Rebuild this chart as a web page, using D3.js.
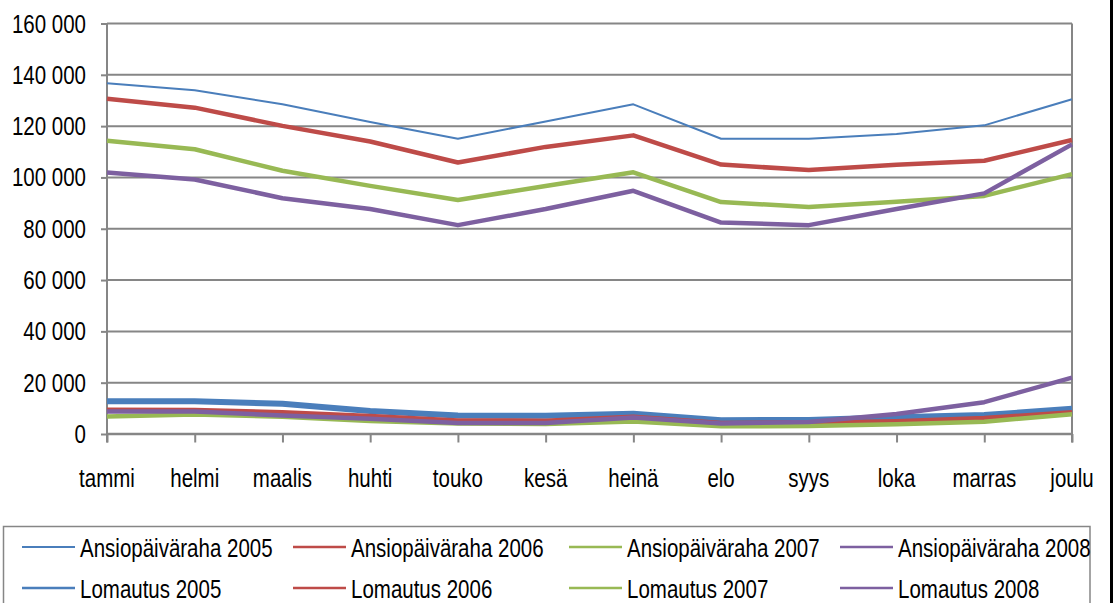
<!DOCTYPE html>
<html>
<head>
<meta charset="utf-8">
<script src="https://cdn.jsdelivr.net/npm/d3@7"></script>
<style>
  html, body { margin: 0; padding: 0; background: #fff; }
  svg { display: block; }
  text { font-family: "Liberation Sans", Arial, sans-serif; fill: #000; }
</style>
</head>
<body>
<svg id="chart" width="1115" height="603"></svg>
<script>
// ---- data ----
const months = ["tammi","helmi","maalis","huhti","touko","kesä","heinä","elo","syys","loka","marras","joulu"];
const yTickValues = [0, 20000, 40000, 60000, 80000, 100000, 120000, 140000, 160000];

const ansio2005 = [136700, 134000, 128500, 121600, 115100, 121800, 128500, 115100, 115100, 116900, 120300, 130500];
const ansio2006 = [130700, 127200, 120100, 114000, 105800, 111900, 116400, 105000, 102900, 104900, 106500, 114600];
const ansio2007 = [114300, 111000, 102600, 96700, 91200, 96700, 102000, 90400, 88500, 90500, 92800, 101300];
const ansio2008 = [101900, 99200, 91900, 87700, 81400, 87700, 94800, 82400, 81400, 87700, 93800, 112900];

const lomautus2005 = [12800, 12800, 11800, 9000, 7200, 7100, 7900, 5400, 5500, 6500, 7400, 9800];
const lomautus2006 = [9500, 9400, 8500, 7000, 5300, 5200, 6700, 4300, 4500, 5000, 6200, 8500];
const lomautus2007 = [6800, 7600, 6700, 5100, 4100, 3900, 4900, 3000, 3100, 3800, 4800, 7700];
const lomautus2008 = [8800, 8800, 7200, 5900, 4300, 4300, 6400, 4100, 4700, 7800, 12400, 22000];

const seriesNames = ["Ansiopäiväraha 2005","Ansiopäiväraha 2006","Ansiopäiväraha 2007","Ansiopäiväraha 2008",
                     "Lomautus 2005","Lomautus 2006","Lomautus 2007","Lomautus 2008"];
const seriesValues = [ansio2005, ansio2006, ansio2007, ansio2008, lomautus2005, lomautus2006, lomautus2007, lomautus2008];

// ---- styles ----
const colors = ["#4A7EBB","#BE4B48","#98B954","#7D60A0","#4A7EBB","#BE4B48","#98B954","#7D60A0"];
const widths = [2, 4.5, 4.5, 4.5, 6, 4.5, 4.5, 4.5];
const legendWidths = [2, 2.5, 2.5, 2.5, 2.5, 2.5, 2.5, 2.5];
const gridColor = "#868686";
const SX = 0.82; // horizontal text compression (narrow face)
const FS = 25;

const svg = d3.select("#chart");
const pLeft = 107, pRight = 1072, pTop = 23.5, pBottom = 434;

const x = d3.scalePoint().domain(months).range([pLeft, pRight]);
const y = d3.scaleLinear().domain([0, 160000]).range([pBottom, pTop]);

const fmt = d3.formatLocale({decimal: ",", thousands: "\u00a0", grouping: [3], currency: ["", ""]}).format(",d");

// gridlines
svg.append("g").selectAll("line").data(yTickValues).join("line")
  .attr("x1", pLeft).attr("x2", pRight)
  .attr("y1", d => y(d)).attr("y2", d => y(d))
  .attr("stroke", gridColor).attr("stroke-width", d => d === 0 ? 2.5 : 2);

// right border of plot
svg.append("line").attr("x1", pRight).attr("x2", pRight).attr("y1", pTop).attr("y2", pBottom + 8.5)
  .attr("stroke", gridColor).attr("stroke-width", 2);

// y axis
const yAxis = svg.append("g").attr("transform", `translate(${pLeft},0)`)
  .call(d3.axisLeft(y).tickValues(yTickValues).tickSize(6).tickSizeOuter(0).tickFormat(() => ""));
yAxis.select(".domain").attr("stroke", gridColor).attr("stroke-width", 2).attr("d", `M0,${pTop}V${pBottom + 8.5}`);
yAxis.selectAll(".tick line").attr("stroke", gridColor).attr("stroke-width", 2);

// y labels
svg.append("g").selectAll("g").data(yTickValues).join("g")
  .attr("transform", d => `translate(86,${y(d) + 9}) scale(${SX},1)`)
  .append("text").attr("text-anchor", "end").attr("font-size", FS).text(d => fmt(d));

// x axis ticks
const xAxis = svg.append("g").attr("transform", `translate(0,${pBottom})`)
  .call(d3.axisBottom(x).tickSize(8.5).tickSizeOuter(0).tickFormat(() => ""));
xAxis.select(".domain").remove();
xAxis.selectAll(".tick line").attr("stroke", gridColor).attr("stroke-width", 2);

// x labels
svg.append("g").selectAll("g").data(months).join("g")
  .attr("transform", d => `translate(${x(d)},487) scale(${SX},1)`)
  .append("text").attr("text-anchor", "middle").attr("font-size", FS).text(d => d);

// lines
const line = d3.line().x((d, i) => x(months[i])).y(d => y(d));
svg.append("g").selectAll("path").data(seriesValues).join("path")
  .attr("d", d => line(d))
  .attr("fill", "none")
  .attr("stroke", (d, i) => colors[i])
  .attr("stroke-width", (d, i) => widths[i])
  .attr("stroke-linejoin", "round")
  .attr("stroke-linecap", "butt");

// legend box
svg.append("rect").attr("x", 3.5).attr("y", 526.5).attr("width", 1086.5).attr("height", 90)
  .attr("fill", "none").attr("stroke", gridColor).attr("stroke-width", 1.5);

const colX = [22, 293, 569, 840];
const rowY = [547, 588];
const rowBase = [556.5, 597.5];
const lg = svg.append("g").selectAll("g").data(seriesNames).join("g");
lg.append("line")
  .attr("x1", (d, i) => colX[i % 4]).attr("x2", (d, i) => colX[i % 4] + 53)
  .attr("y1", (d, i) => rowY[Math.floor(i / 4)]).attr("y2", (d, i) => rowY[Math.floor(i / 4)])
  .attr("stroke", (d, i) => colors[i]).attr("stroke-width", (d, i) => legendWidths[i]);
lg.append("g")
  .attr("transform", (d, i) => `translate(${colX[i % 4] + 58},${rowBase[Math.floor(i / 4)]}) scale(${SX},1)`)
  .append("text").attr("font-size", FS).text(d => d);

// outer black right border
svg.append("line").attr("x1", 1111.5).attr("x2", 1111.5).attr("y1", 0).attr("y2", 603)
  .attr("stroke", "#000").attr("stroke-width", 3);
</script>
</body>
</html>
